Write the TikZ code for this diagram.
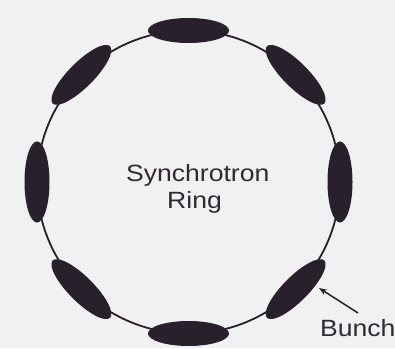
\documentclass[tikz,border=0pt]{standalone}
\usepackage{fontspec}
\setmainfont{Liberation Sans}
\usetikzlibrary{shapes.geometric,arrows.meta,calc}
\definecolor{bg}{RGB}{241,240,243}
\definecolor{ink}{RGB}{40,32,42}
\definecolor{txt}{RGB}{48,42,50}
\tikzset{
  bunch/.style={ellipse, fill=ink, draw=none, minimum width=81pt, minimum height=25pt, inner sep=0pt},
  lbl/.style={text=txt, inner sep=0pt, anchor=base west, font=\fontsize{23.5pt}{27pt}\selectfont},
  ringline/.style={draw=ink, line width=1.8pt},
}
\begin{document}
\begin{tikzpicture}[x=1pt,y=1pt]
\fill[bg] (0,0) rectangle (395,348);
\useasboundingbox (0,0) rectangle (395,348);
\coordinate (c) at (188.5,166);
\draw[ringline] (c) circle (151.5);
\foreach \a/\n in {0/b0,45/b1,90/b2,135/b3,180/b4,225/b5,270/b6,315/b7}{
  \node[bunch, rotate=\a+90] (\n) at ($(c)+(\a:151.5)$) {};
}
\node[lbl] (t1) at (126,167) {\scalebox{1.13}[1]{Synchrotron}};
\node[lbl] (t2) at (167,140) {\scalebox{1.13}[1]{Ring}};
\node[lbl] (t3) at (320,12) {\scalebox{1.13}[1]{Bunch}};
\coordinate (tail) at (358,35);
\coordinate (tip) at (319,60);
\draw[draw=ink, line width=1.5pt, -{Stealth[length=8pt,width=6pt]}] (tail) -- (tip);
\end{tikzpicture}
\end{document}
